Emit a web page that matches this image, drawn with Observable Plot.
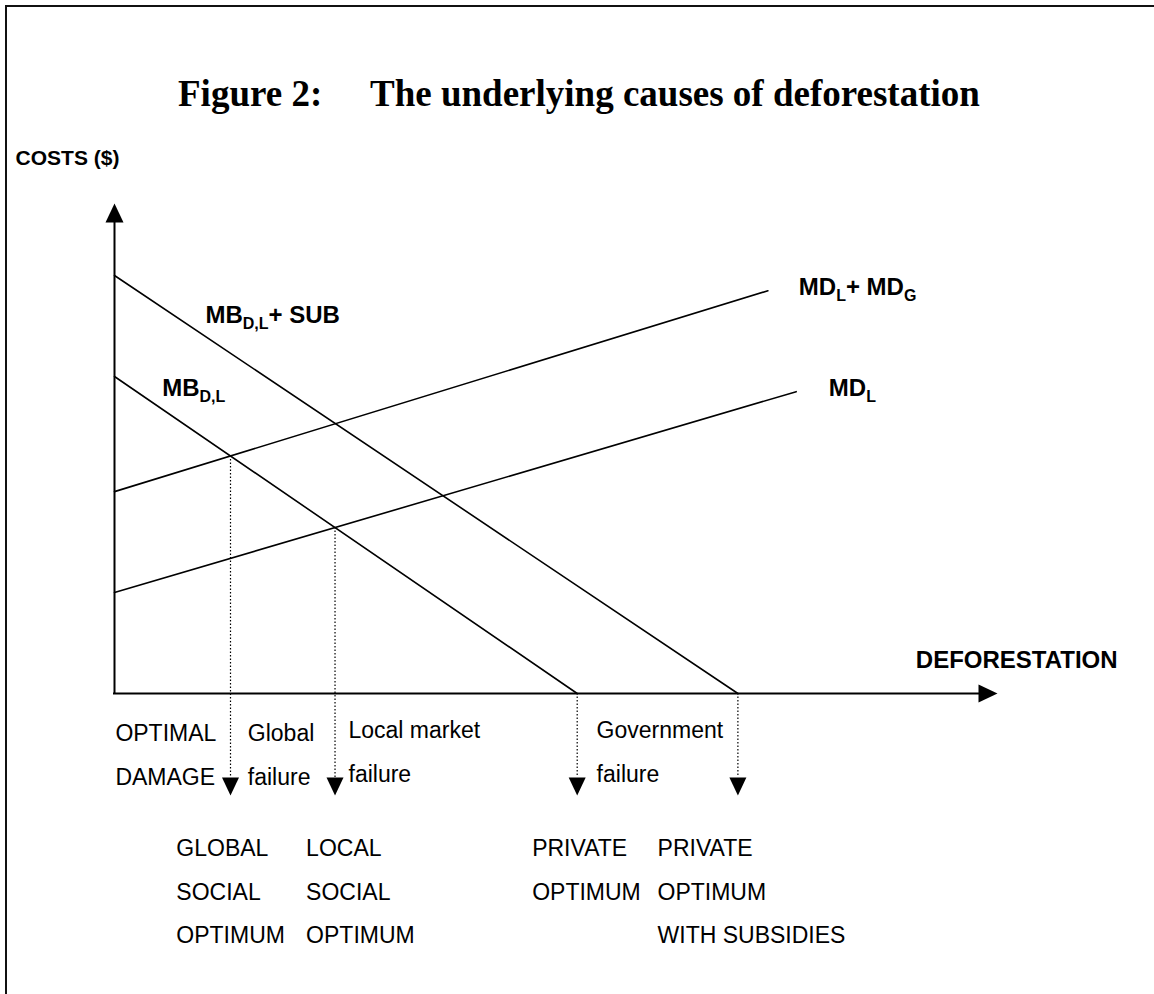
<!DOCTYPE html>
<html>
<head>
<meta charset="utf-8">
<script src="https://cdn.jsdelivr.net/npm/d3@7"></script>
<script src="https://cdn.jsdelivr.net/npm/@observablehq/plot@0.6"></script>
<style>
  html, body { margin: 0; padding: 0; background: #fff; }
  #wrap { position: relative; width: 1154px; height: 994px; overflow: hidden; }
  #frame { position: absolute; left: 5px; top: 5px; width: 1300px; height: 1200px;
           border-left: 2px solid #111; border-top: 2px solid #111; z-index: 2; }
  #chart { position: absolute; left: 0; top: 0; z-index: 1; }
  .title { position: absolute; top: 75px; line-height: 1; white-space: nowrap;
           font-family: "Liberation Serif", "Times New Roman", serif; font-weight: bold;
           font-size: 37px; color: #000; z-index: 3; }
</style>
</head>
<body>
<div id="wrap">
  <div id="frame"></div>
  <div class="title" id="t1" style="left:178px">Figure 2:</div>
  <div class="title" id="t2" style="left:370px">The underlying causes of deforestation</div>
  <div id="chart"></div>
</div>
<script>
// ---- data (abstract units: deforestation 0..100, costs 0..100) ----
const curveNames  = ["MB_{D,L}+ SUB", "MB_{D,L}", "MD_{L}+ MD_{G}", "MD_{L}"];
const curveStartX = [0, 0, 0, 0];
const curveStartY = [85.3, 64.7, 41.2, 20.6];
const curveEndX   = [70.6, 52.4, 74.0, 77.2];
const curveEndY   = [0, 0, 82.2, 61.6];
const curveLabelX = [10.3, 5.4, 77.5, 80.9];
const curveLabelY = [75.7, 60.8, 81.4, 60.8];

// optimum = crossing of curve A with curve B (null -> x-axis)
const optimumNames = ["GLOBAL\nSOCIAL\nOPTIMUM", "LOCAL\nSOCIAL\nOPTIMUM", "PRIVATE\nOPTIMUM", "PRIVATE\nOPTIMUM\nWITH SUBSIDIES"];
const optimumCurveA = [2, 3, 1, 0];
const optimumCurveB = [1, 1, null, null];
const optimumLabelX = [7.0, 21.7, 47.3, 61.5];

const failureNames  = ["OPTIMAL\nDAMAGE", "Global\nfailure", "Local market\nfailure", "Government\nfailure"];
const failureLabelX = [0.1, 15.1, 26.5, 54.6];

const axisNames  = ["COSTS ($)", "DEFORESTATION"];
const axisLabelX = [-11.2, 113.6];
const axisLabelY = [100, 0];

// ---- derived tables ----
const curvePts = curveNames.flatMap((name, i) => [
  {name, x: curveStartX[i], y: curveStartY[i]},
  {name, x: curveEndX[i], y: curveEndY[i]}
]);
function lineOf(i) {
  const m = (curveEndY[i] - curveStartY[i]) / (curveEndX[i] - curveStartX[i]);
  return {m, b: curveStartY[i] - m * curveStartX[i]};
}
const optima = optimumNames.map((name, k) => {
  const A = lineOf(optimumCurveA[k]);
  const B = optimumCurveB[k] === null ? {m: 0, b: 0} : lineOf(optimumCurveB[k]);
  const x = (B.b - A.b) / (A.m - B.m);
  return {name, x, y: A.m * x + A.b, lx: optimumLabelX[k]};
});
const curveLabels = curveNames.map((name, i) => ({name, x: curveLabelX[i], y: curveLabelY[i]}));
const failures = failureNames.map((name, i) => ({name, x: failureLabelX[i]}));
const axisLabels = axisNames.map((name, i) => ({name, x: axisLabelX[i], y: axisLabelY[i]}));

// arrowhead symbols (tip at the anchor point)
const headDown  = {draw(c) { c.moveTo(0, 0); c.lineTo(-8.5, -18); c.lineTo(8.5, -18); c.closePath(); }};
const headUp    = {draw(c) { c.moveTo(0, 0); c.lineTo(-9, 19); c.lineTo(9, 19); c.closePath(); }};
const headRight = {draw(c) { c.moveTo(0, 0); c.lineTo(-19, -9); c.lineTo(-19, 9); c.closePath(); }};

const chart = Plot.plot({
  width: 1154, height: 994, margin: 0,
  x: {type: "linear", domain: [0, 100], range: [114, 997], axis: null},
  y: {type: "linear", domain: [0, 100], range: [693, 203], axis: null},
  style: {background: "transparent", overflow: "visible", fontFamily: "'Liberation Sans', Arial, sans-serif", color: "#000"},
  marks: [
    // axes
    Plot.ruleY([{y: 0, x1: 0, x2: 98}], {y: "y", x1: "x1", x2: "x2", stroke: "#000", strokeWidth: 2, strokeLinecap: "square"}),
    Plot.ruleX([{x: 0, y1: 0, y2: 98}], {x: "x", y1: "y1", y2: "y2", stroke: "#000", strokeWidth: 2, strokeLinecap: "square"}),
    Plot.dot([{x: 100, y: 0}], {x: "x", y: "y", symbol: headRight, r: 10, fill: "#000", stroke: "none"}),
    Plot.dot([{x: 0, y: 100}], {x: "x", y: "y", symbol: headUp, r: 10, fill: "#000", stroke: "none"}),
    // curves
    Plot.line(curvePts, {x: "x", y: "y", z: "name", stroke: "#000", strokeWidth: 1.6}),
    // dotted drop lines and arrowheads
    Plot.ruleX(optima, {x: "x", y1: "y", y2: d => 0, insetBottom: -84, stroke: "#000", strokeWidth: 1.2, strokeDasharray: "1.5,2"}),
    Plot.dot(optima, {x: "x", y: d => 0, dy: 102, symbol: headDown, r: 10, fill: "#000", stroke: "none"}),
    // curve labels
    Plot.text(curveLabels, {x: "x", y: "y", text: "name", textAnchor: "start", lineAnchor: "bottom", fontSize: 24, fontWeight: "bold"}),
    // axis labels
    Plot.text(axisLabels.slice(0, 1), {x: "x", y: "y", text: "name", textAnchor: "start", lineAnchor: "bottom", dy: -39, fontSize: 21, fontWeight: "bold"}),
    Plot.text(axisLabels.slice(1), {x: "x", y: "y", text: "name", textAnchor: "end", lineAnchor: "bottom", dy: -26, fontSize: 24, fontWeight: "bold"}),
    // failure labels just below the axis
    Plot.text(failures.slice(0, 2), {x: "x", y: d => 0, text: "name", textAnchor: "start", lineAnchor: "top", lineHeight: 1.92, dy: 16, fontSize: 23}),
    Plot.text(failures.slice(2), {x: "x", y: d => 0, text: "name", textAnchor: "start", lineAnchor: "top", lineHeight: 1.92, dy: 13, fontSize: 23}),
    // optimum labels
    Plot.text(optima, {x: "lx", y: d => 0, text: "name", textAnchor: "start", lineAnchor: "top", lineHeight: 1.89, dy: 132, fontSize: 23})
  ]
});

// subscripts for labels written as X_{sub}
chart.querySelectorAll("text").forEach(t => {
  const s = t.textContent;
  if (!s.includes("_{") || t.querySelector("tspan")) return;
  t.textContent = "";
  const re = /([^_]+)|_\{([^}]*)\}/g;
  let m, shifted = false;
  while ((m = re.exec(s))) {
    const ts = document.createElementNS("http://www.w3.org/2000/svg", "tspan");
    if (m[2] !== undefined) {
      ts.textContent = m[2];
      ts.setAttribute("font-size", "16");
      ts.setAttribute("dy", "6");
      shifted = true;
    } else {
      ts.textContent = m[1];
      if (shifted) { ts.setAttribute("dy", "-6"); shifted = false; }
    }
    t.appendChild(ts);
  }
});

document.getElementById("chart").appendChild(chart);
</script>
</body>
</html>
